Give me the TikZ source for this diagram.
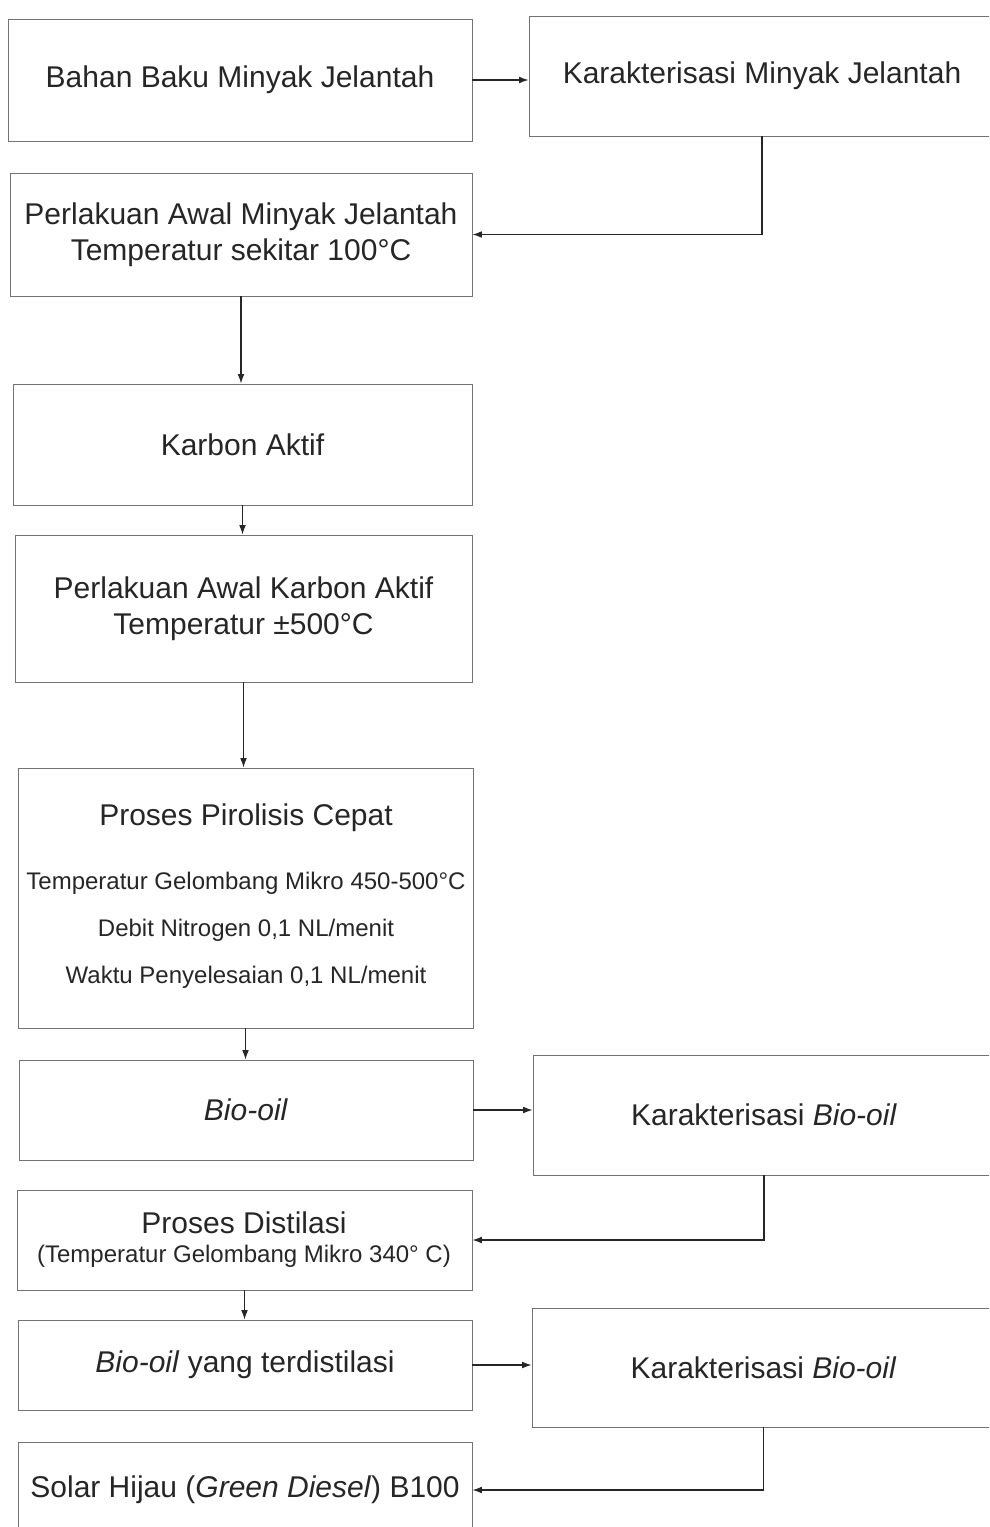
\documentclass[tikz,border=0pt]{standalone}
\usepackage{fontspec}
\setmainfont{Liberation Sans}
\usetikzlibrary{arrows.meta}
\newcommand{\hurufbesar}{\fontsize{22.5}{27}\selectfont}
\newcommand{\hurufkecil}{\fontsize{18}{24}\selectfont}
\tikzset{
  kotak/.style={draw=black!55, line width=0.7pt, rectangle, inner sep=0pt, text=black!85, font=\hurufbesar, align=center},
  ukuran/.style 2 args={minimum width=#1*0.75pt, minimum height=#2*0.75pt},
  teks/.style={inner sep=0pt, text=black!85, font=\hurufbesar},
  panah/.style={draw=black!85, line width=0.8pt, -{Latex[length=7pt,width=5pt]}}
}

\begin{document}
\begin{tikzpicture}[x=0.75pt,y=0.75pt,yscale=-1,xscale=1]
\useasboundingbox (0,0) rectangle (989,1527);
\clip (0,0) rectangle (989,1527);

%Shape: Rectangle - kolom kiri
\node[kotak, ukuran={464}{122}] (bahan) at (240,80) {Bahan Baku Minyak Jelantah};
\node[kotak, ukuran={462}{123}] (awalMJ) at (241,234.5) {Perlakuan Awal Minyak Jelantah\\Temperatur sekitar 100°C};
\node[kotak, ukuran={459}{121}] (karbon) at (242.5,444.5) {Karbon Aktif};
\node[kotak, ukuran={457}{147}] (awalKA) at (243.5,608.5) {Perlakuan Awal Karbon Aktif\\Temperatur ±500°C};
\node[kotak, ukuran={455}{260}] (pirolisis) at (245.5,898) {};
\node[kotak, ukuran={454}{100}] (biooil) at (246,1110) {\textit{Bio-oil}};
\node[kotak, ukuran={455}{100}] (distilasi) at (244.5,1240) {};
\node[kotak, ukuran={454}{90}] (terdistilasi) at (245,1365) {\textit{Bio-oil} yang terdistilasi};
\node[kotak, ukuran={454}{96}] (solar) at (245,1490) {Solar Hijau (\textit{Green Diesel}) B100};

%Shape: Rectangle - kolom kanan
\node[kotak, ukuran={466}{120}] (karMJ) at (762,76) {Karakterisasi Minyak Jelantah};
\node[kotak, ukuran={462}{120}] (karBO1) at (764,1115) {Karakterisasi \textit{Bio-oil}};
\node[kotak, ukuran={463}{119}] (karBO2) at (763.5,1367.5) {Karakterisasi \textit{Bio-oil}};

% Text Node
\node[teks] (pirolisisJudul) at (246,818) {Proses Pirolisis Cepat};
\node[teks, font=\hurufkecil] (pirolisisSuhu) at (246,883) {Temperatur Gelombang Mikro 450-500°C};
\node[teks, font=\hurufkecil] (pirolisisDebit) at (246,930) {Debit Nitrogen 0,1 NL/menit};
\node[teks, font=\hurufkecil] (pirolisisWaktu) at (246,977) {Waktu Penyelesaian 0,1 NL/menit};
\node[teks] (distilasiJudul) at (244,1223) {Proses Distilasi};
\node[teks, font=\hurufkecil] (distilasiSuhu) at (244,1256) {(Temperatur Gelombang Mikro 340° C)};

%Straight Lines
\draw[panah] (bahan.east) -- (bahan.east -| karMJ.west);
\draw[panah] (karMJ.south) |- (awalMJ.east);
\draw[panah] (awalMJ.south) -- (awalMJ.south |- karbon.north);
\draw[panah] (karbon.south) -- (karbon.south |- awalKA.north);
\draw[panah] (awalKA.south) -- (awalKA.south |- pirolisis.north);
\draw[panah] (pirolisis.south) -- (pirolisis.south |- biooil.north);
\draw[panah] (biooil.east) -- (biooil.east -| karBO1.west);
\draw[panah] (karBO1.south) |- (distilasi.east);
\draw[panah] (distilasi.south) -- (distilasi.south |- terdistilasi.north);
\draw[panah] (terdistilasi.east) -- (terdistilasi.east -| karBO2.west);
\draw[panah] (karBO2.south) |- (solar.east);

\end{tikzpicture}
\end{document}
